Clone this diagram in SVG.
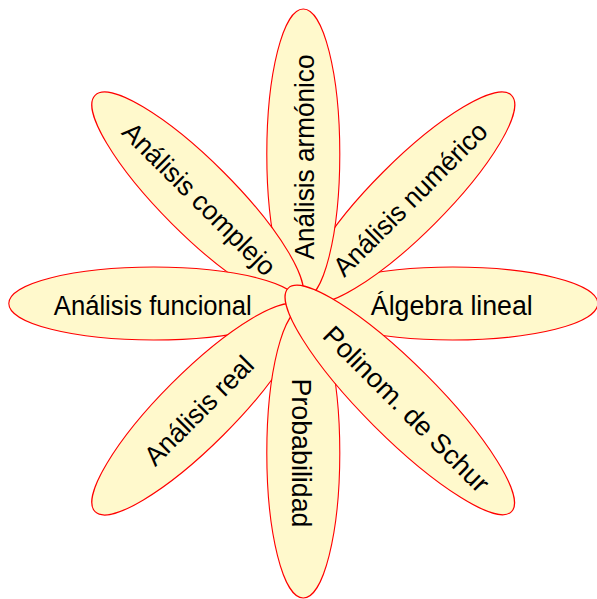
<svg xmlns="http://www.w3.org/2000/svg" width="597" height="599" viewBox="0 0 597 599">
<style>
.e{fill:#fff9cc;stroke:#ff0000;stroke-width:1.1}
.t{font-family:"Liberation Sans","DejaVu Sans",sans-serif;font-size:27px;fill:#000;text-anchor:middle}
</style>
<rect width="597" height="599" fill="#ffffff"/>
<g id="n-algebra" transform="translate(452.8,303.5) rotate(0)"><ellipse class="e" rx="145" ry="36.5"/><text class="t" x="-1" y="11" textLength="162" lengthAdjust="spacingAndGlyphs">Álgebra lineal</text></g>
<g id="n-numerico" transform="translate(409,197.8) rotate(-45)"><ellipse class="e" rx="145" ry="36.5"/><text class="t" x="0" y="11" textLength="205" lengthAdjust="spacingAndGlyphs">Análisis numérico</text></g>
<g id="n-armonico" transform="translate(303.3,154) rotate(-90)"><ellipse class="e" rx="145" ry="36.5"/><text class="t" x="-3" y="11" textLength="205" lengthAdjust="spacingAndGlyphs">Análisis armónico</text></g>
<g id="n-complejo" transform="translate(197.6,197.8) rotate(45)"><ellipse class="e" rx="145" ry="36.5"/><text class="t" x="2" y="9" textLength="204" lengthAdjust="spacingAndGlyphs">Análisis complejo</text></g>
<g id="n-funcional" transform="translate(153.8,303.5) rotate(0)"><ellipse class="e" rx="145" ry="36.5"/><text class="t" x="-1" y="11" textLength="198" lengthAdjust="spacingAndGlyphs">Análisis funcional</text></g>
<g id="n-real" transform="translate(197.6,409.2) rotate(-45)"><ellipse class="e" rx="145" ry="36.5"/><text class="t" x="0" y="11" textLength="142" lengthAdjust="spacingAndGlyphs">Análisis real</text></g>
<g id="n-probabilidad" transform="translate(303.3,453) rotate(90)"><ellipse class="e" rx="145" ry="36.5"/><text class="t" x="0" y="11" textLength="149" lengthAdjust="spacingAndGlyphs">Probabilidad</text></g>
<g id="n-schur" transform="translate(399.8,400) rotate(45)"><ellipse class="e" rx="158" ry="36.5"/><text class="t" x="11" y="11" textLength="222" lengthAdjust="spacingAndGlyphs">Polinom. de Schur</text></g>
<g id="connectors"/>
</svg>
